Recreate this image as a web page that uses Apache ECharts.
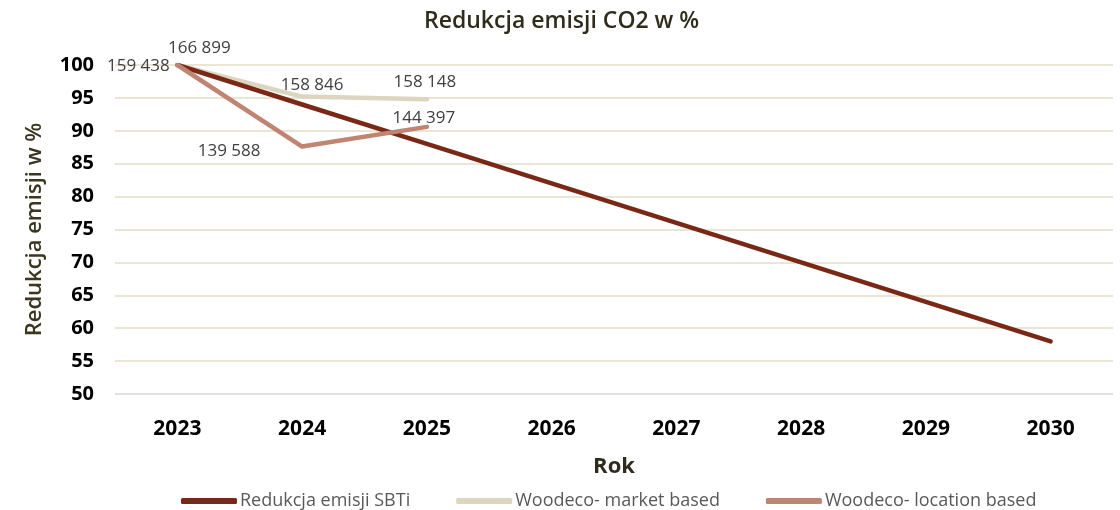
<!DOCTYPE html>
<html>
<head>
<meta charset="utf-8">
<script src="https://cdn.jsdelivr.net/npm/echarts@6/dist/echarts.min.js"></script>
<style>
  html, body { margin: 0; padding: 0; background: #fff; }
  #chart { width: 1120px; height: 510px; }
</style>
</head>
<body>
<div id="chart"></div>
<script>
// dane
const years = ['2023', '2024', '2025', '2026', '2027', '2028', '2029', '2030'];
const sbti = [100, 94, 88, 82, 76, 70, 64, 58];
const marketBased = [100, 95.2, 94.8];
const locationBased = [100, 87.6, 90.6];
const marketLabels = ['166 899', '158 846', '158 148'];
const locationLabels = ['159 438', '139 588', '144 397'];

const FONT = '"Open Sans", "Noto Sans", sans-serif';

// pozycje etykiet (styl, nie dane)
const marketPos = [[22, -17], [10, -11], [-2, -17]];
const locationPos = [[-39, 1], [-73, 5], [-3, -9]];

function withLabels(values, labels, offsets) {
  return values.map((v, i) => ({
    value: v,
    label: {
      show: true,
      formatter: labels[i],
      position: 'inside',
      offset: offsets[i],
      color: '#404040',
      fontSize: 17,
      fontFamily: FONT
    }
  }));
}

const chart = echarts.init(document.getElementById('chart'));
const option = {
  animation: false,
  title: {
    text: 'Redukcja emisji CO2 w %',
    left: 419,
    top: 5,
    textStyle: { fontSize: 23, fontWeight: 600, color: '#2f2b1d', fontFamily: FONT }
  },
  grid: { left: 115, right: 7, top: 65, bottom: 116 },
  legend: {
    top: 487,
    left: 176,
    itemGap: 46,
    itemWidth: 56,
    itemHeight: 6,
    icon: 'roundRect',
    textStyle: { fontSize: 18, color: '#595959', fontFamily: FONT, padding: [0, 0, 0, -2] },
    data: ['Redukcja emisji SBTi', 'Woodeco- market based', 'Woodeco- location based']
  },
  xAxis: {
    type: 'category',
    data: years,
    name: 'Rok',
    nameLocation: 'middle',
    nameGap: 62,
    nameTextStyle: { fontSize: 22, fontWeight: 'bold', color: '#2f2b1d', fontFamily: FONT },
    axisLine: { show: false },
    axisTick: { show: false },
    axisLabel: { margin: 25, fontSize: 21, fontWeight: 'bold', color: '#000', fontFamily: FONT }
  },
  yAxis: {
    type: 'value',
    min: 50,
    max: 100,
    interval: 5,
    name: 'Redukcja emisji w %',
    nameLocation: 'middle',
    nameGap: 69,
    nameTextStyle: { fontSize: 22, fontWeight: 600, color: '#3a3620', fontFamily: FONT },
    axisLine: { show: false },
    axisTick: { show: false },
    axisLabel: { margin: 21, fontSize: 20, fontWeight: 'bold', color: '#000', fontFamily: FONT },
    splitLine: {
      lineStyle: {
        color: ['#d9d9d9', '#e4dcc8', '#e4dcc8', '#e4dcc8', '#e4dcc8', '#e4dcc8',
                '#e4dcc8', '#e4dcc8', '#e4dcc8', '#e4dcc8', '#e4dcc8'],
        width: 1.5
      }
    }
  },
  series: [
    {
      name: 'Redukcja emisji SBTi',
      type: 'line',
      data: sbti,
      symbol: 'none',
      color: '#7a2816',
      lineStyle: { width: 4.5, cap: 'round', join: 'round' },
      z: 2
    },
    {
      name: 'Woodeco- market based',
      type: 'line',
      data: withLabels(marketBased, marketLabels, marketPos),
      symbol: 'circle',
      symbolSize: 0,
      showSymbol: true,
      color: '#ddd5bf',
      lineStyle: { width: 4.5, cap: 'round', join: 'round' },
      z: 1
    },
    {
      name: 'Woodeco- location based',
      type: 'line',
      data: withLabels(locationBased, locationLabels, locationPos),
      symbol: 'circle',
      symbolSize: 0,
      showSymbol: true,
      color: '#c08472',
      lineStyle: { width: 4.5, cap: 'round', join: 'round' },
      z: 3
    }
  ]
};
chart.setOption(option);
</script>
</body>
</html>
